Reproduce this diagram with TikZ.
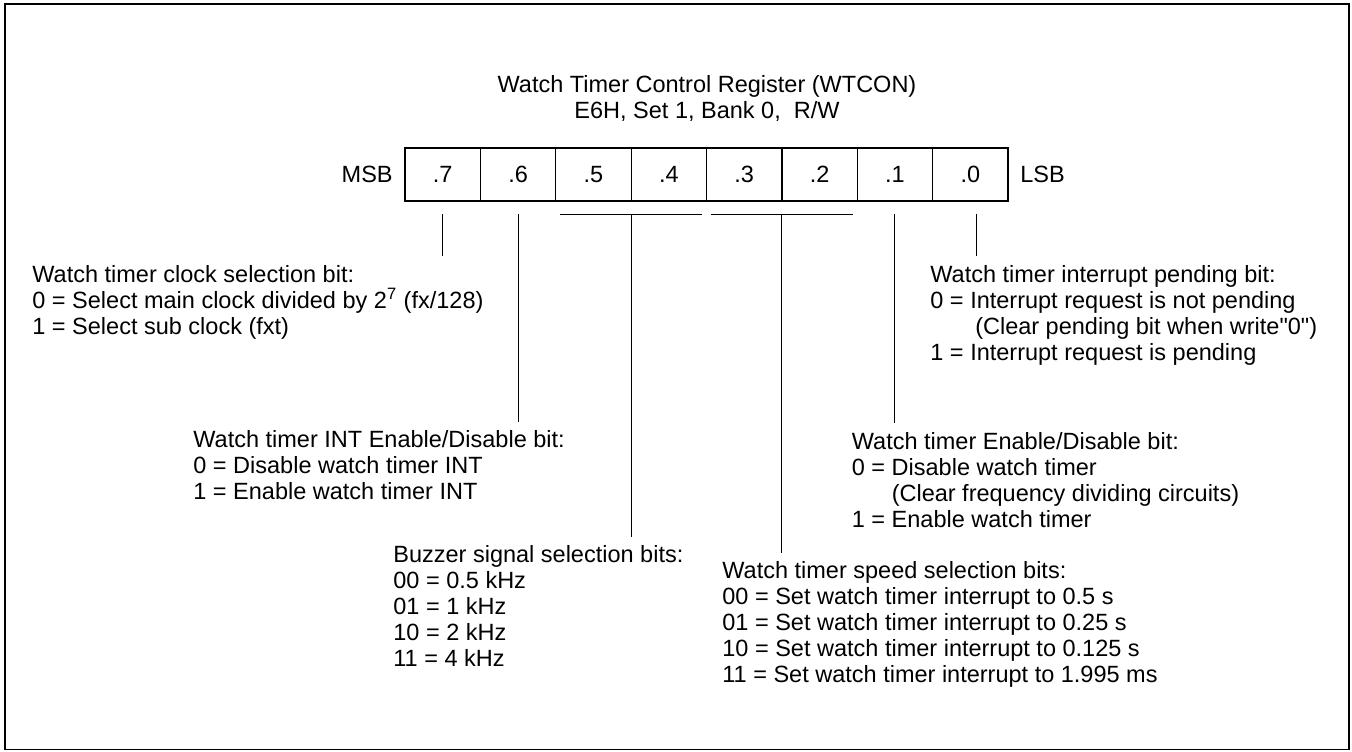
\documentclass[tikz,border=0pt]{standalone}
\usepackage{fontspec}
\setmainfont{Liberation Sans}[Ligatures=TeXOff]
\usetikzlibrary{positioning}
\begin{document}
\begin{tikzpicture}[x=0.5pt, y=-0.5pt,
  font=\fontsize{11.75pt}{13pt}\selectfont,
  cell/.style={draw, line width=0.6pt, minimum width=37.69pt, minimum height=26.5pt, inner sep=0pt, outer sep=0pt},
  desc/.style={align=left, anchor=north west, inner sep=0pt},
  lead/.style={line width=0.55pt}]
\useasboundingbox (0,0) rectangle (1352,751);
\draw[line width=0.9pt] (5,4) rectangle (1349,749.5);
% title
\node[align=center, anchor=base, inner sep=0pt] (title) at (707,118.7) {Watch Timer Control Register (WTCON)\\E6H, Set 1, Bank 0,\ \ R/W};
% register bits
\node[cell] (b7) at (442.7,174.5) {.7};
\node[cell] (b6) at (518.1,174.5) {.6};
\node[cell] (b5) at (593.4,174.5) {.5};
\node[cell] (b4) at (668.8,174.5) {.4};
\node[cell] (b3) at (744.2,174.5) {.3};
\node[cell] (b2) at (819.6,174.5) {.2};
\node[cell] (b1) at (894.9,174.5) {.1};
\node[cell] (b0) at (970.3,174.5) {.0};
\node[inner sep=0pt, left=6pt of b7] (msb) {MSB};
\node[inner sep=0pt, right=6pt of b0] (lsb) {LSB};
% descriptions
\node[desc] (clk) at (32,264.6) {Watch timer clock selection bit:\\0 = Select main clock divided by 2\textsuperscript{7} (fx/128)\\1 = Select sub clock (fxt)};
\node[desc] (inten) at (193,430.5) {Watch timer INT Enable/Disable bit:\\0 = Disable watch timer INT\\1 = Enable watch timer INT};
\node[desc] (buz) at (393,545.5) {Buzzer signal selection bits:\\00 = 0.5 kHz\\01 = 1 kHz\\10 = 2 kHz\\11 = 4 kHz};
\node[desc] (speed) at (722,561.5) {Watch timer speed selection bits:\\00 = Set watch timer interrupt to 0.5 s\\01 = Set watch timer interrupt to 0.25 s\\10 = Set watch timer interrupt to 0.125 s\\11 = Set watch timer interrupt to 1.995 ms};
\node[desc] (wten) at (851.5,432) {Watch timer Enable/Disable bit:\\0 = Disable watch timer\\\phantom{0 = }(Clear frequency dividing circuits)\\1 = Enable watch timer};
\node[desc] (pend) at (930,264.6) {Watch timer interrupt pending bit:\\0 = Interrupt request is not pending\\\phantom{0 = }\hspace*{2.5pt}(Clear pending bit when write"0")\\1 = Interrupt request is pending};
% leaders
\draw[lead] ([yshift=-6.6pt]b7.south) -- ([yshift=4.5pt]b7.south |- clk.north);
\draw[lead] ([yshift=-6.6pt]b6.south) -- ([yshift=4.5pt]b6.south |- inten.north);
\draw[lead] ([xshift=2.3pt, yshift=-6.6pt]b5.south west) -- ([xshift=-2.2pt, yshift=-6.6pt]b4.south east);
\draw[lead] ([yshift=-6.6pt]b5.south east) -- ([yshift=4.5pt]b5.south east |- buz.north);
\draw[lead] ([xshift=2.2pt, yshift=-6.6pt]b3.south west) -- ([xshift=-2.2pt, yshift=-6.6pt]b2.south east);
\draw[lead] ([yshift=-6.6pt]b3.south east) -- ([yshift=4.5pt]b3.south east |- speed.north);
\draw[lead] ([yshift=-6.6pt]b1.south) -- ([yshift=4.5pt]b1.south |- wten.north);
\draw[lead] ([xshift=3.3pt, yshift=-6.6pt]b0.south) -- ([xshift=3.3pt, yshift=4.5pt]b0.south |- pend.north);
\end{tikzpicture}
\end{document}
